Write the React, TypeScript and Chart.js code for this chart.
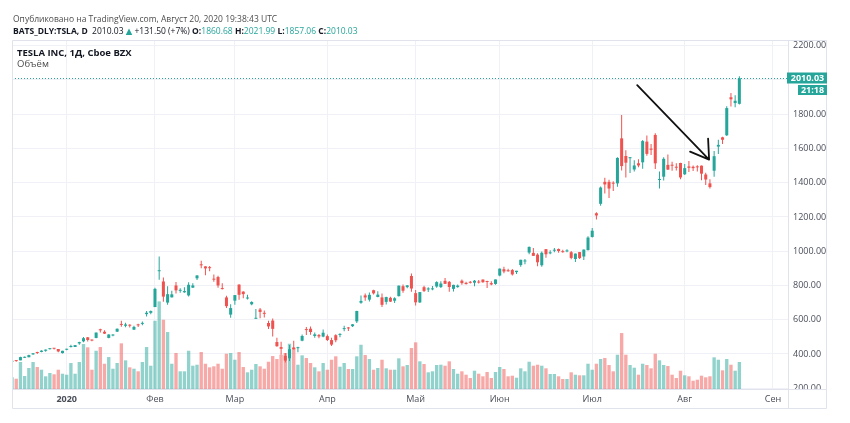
import React, { useEffect, useRef } from 'react';
import { Chart, registerables } from 'chart.js';

Chart.register(...registerables);

// ---- Data (TSLA daily, 2019-12-12 .. 2020-08-20; one value per trading day) ----
const opens: number[] = [
  354.92, 361.05, 362.55, 377.5, 380.63, 397.32, 410.29, 411.78, 418.36, 427.91, 435.0, 428.79, 405.0,
  424.5, 440.5, 440.47, 461.4, 473.7, 497.1, 481.79, 493.5, 544.26, 529.76, 493.75, 507.61, 530.25, 571.89, 564.25, 570.63, 541.99, 568.49, 575.69, 632.42, 640.0,
  673.69, 882.96, 823.26, 699.92, 730.55, 800.0, 768.79, 760.0, 741.84, 787.22, 841.6, 923.5, 911.5, 906.99, 839.0, 849.0, 782.5, 730.0, 629.7,
  711.26, 805.0, 763.96, 723.77, 690.0, 605.39, 659.43, 640.2, 580.89, 595.0, 469.5, 440.01, 389.0, 374.7, 438.2, 433.6, 477.3, 545.25, 547.39, 505.0, 510.26, 501.25,
  504.0, 481.03, 509.44, 511.2, 545.0, 554.2, 562.09, 590.16, 698.97, 742.0, 716.94, 772.28, 732.7, 730.12, 703.98, 727.6, 710.81, 737.61, 795.64, 790.17, 855.19,
  755.0, 701.0, 789.79, 776.5, 777.21, 793.77, 790.51, 827.0, 820.83, 780.0, 790.35, 827.78, 815.17, 820.5, 816.0, 822.17, 834.5, 820.86, 813.51, 808.75,
  858.0, 894.7, 888.12, 889.88, 877.84, 919.0, 940.01, 991.88, 990.2, 980.0, 917.79, 1011.85, 987.46, 1003.0, 1012.9, 999.95, 998.88, 994.11, 954.27, 994.78, 969.01, 1006.5,
  1083.0, 1221.48, 1276.69, 1405.01, 1405.0, 1396.99, 1396.0, 1659.0, 1556.0, 1543.0, 1477.16, 1513.45, 1519.01, 1639.93, 1599.0, 1678.95, 1416.01, 1435.0, 1504.0, 1505.0, 1488.0, 1515.0,
  1449.2, 1495.01, 1492.99, 1495.0, 1499.56, 1448.0, 1396.0, 1470.0, 1610.86, 1664.99, 1677.0, 1898.95, 1865.0, 1860.68,
];
const highs: number[] = [
  362.74, 365.21, 383.61, 385.5, 395.22, 405.67, 413.0, 422.01, 425.47, 433.48, 435.31, 429.0, 418.7,
  430.7, 454.0, 451.56, 471.63, 498.49, 498.8, 484.94, 525.63, 547.41, 537.84, 514.46, 515.67, 548.58, 594.5, 582.0, 573.86, 564.44, 576.81, 589.8, 650.88, 653.0,
  786.14, 968.99, 845.98, 795.83, 769.75, 819.99, 783.51, 789.75, 818.0, 812.97, 860.0, 944.78, 912.0, 913.05, 863.5, 856.6, 813.31, 739.76, 690.52,
  743.69, 806.98, 766.52, 745.75, 707.0, 663.0, 668.0, 653.58, 594.5, 607.57, 494.87, 471.85, 404.86, 452.0, 477.0, 442.0, 513.69, 557.0, 560.0, 525.8, 516.65, 542.96,
  513.95, 494.26, 515.49, 521.0, 565.0, 557.21, 575.18, 652.0, 741.88, 753.13, 759.45, 774.95, 765.57, 753.33, 734.0, 734.0, 730.73, 799.49, 805.0, 803.2, 869.82,
  772.77, 762.0, 798.92, 789.8, 796.4, 824.0, 824.0, 843.29, 826.0, 803.36, 805.05, 834.72, 822.07, 826.0, 832.5, 831.78, 834.6, 827.71, 824.75, 835.0,
  899.0, 908.66, 897.94, 895.75, 886.52, 950.0, 954.44, 1027.48, 1018.96, 987.98, 998.84, 1012.88, 1005.0, 1019.05, 1015.97, 1008.88, 1012.0, 1000.88, 985.98, 995.0, 1010.0, 1087.69,
  1135.33, 1228.0, 1377.79, 1429.5, 1417.26, 1408.56, 1548.92, 1794.99, 1590.0, 1550.0, 1531.71, 1537.51, 1650.0, 1675.0, 1626.42, 1689.0, 1465.0, 1547.94, 1564.7, 1522.9, 1513.24, 1517.05,
  1509.82, 1527.0, 1499.84, 1502.39, 1499.84, 1457.75, 1420.0, 1585.0, 1651.18, 1668.54, 1845.86, 1923.9, 1911.0, 2021.99,
];
const lows: number[] = [
  353.23, 354.64, 362.5, 375.9, 380.58, 395.08, 400.19, 410.0, 412.69, 426.35, 426.11, 409.26, 402.22,
  421.71, 436.92, 440.0, 453.36, 468.23, 472.87, 473.7, 492.0, 524.9, 516.79, 492.17, 503.16, 528.41, 559.1, 555.6, 554.26, 539.28, 558.08, 567.43, 618.0, 632.52,
  673.52, 833.88, 704.11, 687.0, 730.0, 752.4, 758.0, 758.0, 735.0, 785.5, 832.36, 901.02, 860.0, 882.33, 822.02, 787.0, 776.11, 669.0, 611.52,
  686.67, 716.11, 724.73, 718.07, 684.27, 605.0, 608.5, 613.0, 546.25, 502.0, 442.17, 396.0, 350.51, 358.46, 425.79, 410.5, 474.0, 511.11, 512.25, 494.03, 491.23, 497.0,
  475.1, 446.4, 468.33, 497.96, 532.34, 533.33, 557.11, 580.53, 692.43, 710.0, 706.72, 747.66, 731.0, 673.79, 688.71, 703.13, 698.18, 735.0, 756.69, 783.16, 763.5,
  683.04, 698.0, 762.18, 761.11, 772.35, 787.01, 785.0, 808.0, 763.3, 764.0, 786.55, 803.88, 806.08, 811.8, 796.0, 812.0, 815.71, 785.0, 801.69, 804.21,
  854.1, 871.0, 880.1, 858.44, 866.2, 909.16, 923.93, 982.5, 972.0, 912.6, 908.5, 962.39, 982.57, 994.47, 991.33, 991.0, 994.01, 953.14, 937.15, 954.87, 948.52, 1003.73,
  1080.5, 1185.6, 1266.04, 1336.71, 1311.34, 1351.28, 1376.01, 1471.11, 1431.0, 1457.0, 1466.0, 1490.0, 1482.11, 1558.0, 1562.0, 1480.61, 1366.54, 1413.0, 1474.42, 1470.0, 1471.0, 1420.36,
  1444.38, 1462.0, 1468.31, 1466.0, 1415.01, 1385.86, 1366.0, 1435.0, 1567.26, 1626.3, 1672.83, 1845.11, 1841.14, 1857.06,
];
const closes: number[] = [
  359.68, 358.39, 381.5, 378.99, 393.15, 404.04, 405.59, 419.22, 425.25, 430.94, 430.38, 414.7, 418.33,
  430.26, 443.01, 451.54, 469.06, 492.14, 481.34, 478.15, 524.86, 537.92, 518.5, 513.49, 510.5, 547.2, 569.56, 572.2, 564.82, 558.02, 566.9, 580.99, 640.81, 650.57,
  780.0, 887.06, 734.7, 748.96, 748.07, 771.28, 774.38, 767.29, 804.0, 800.03, 858.4, 917.42, 899.41, 901.0, 833.79, 799.91, 778.8, 679.0, 667.99,
  743.62, 745.51, 749.5, 724.54, 703.48, 608.0, 645.33, 634.23, 560.55, 546.62, 445.07, 430.2, 361.22, 427.64, 427.53, 434.29, 505.0, 539.25, 528.16, 514.36, 502.13, 524.0,
  481.56, 454.47, 480.01, 516.24, 545.45, 548.84, 573.0, 650.95, 709.89, 729.83, 745.21, 753.89, 746.36, 686.72, 732.11, 705.63, 725.15, 798.75, 769.12, 800.51, 781.88,
  701.32, 761.19, 768.21, 782.58, 780.04, 819.42, 811.29, 809.41, 790.96, 803.33, 799.17, 813.63, 808.01, 815.56, 827.6, 816.88, 818.87, 820.23, 805.81, 835.0,
  898.1, 881.56, 882.96, 864.38, 885.66, 949.92, 940.67, 1025.05, 972.84, 935.28, 990.9, 982.13, 991.79, 1003.96, 1000.9, 994.32, 1001.78, 960.85, 985.98, 959.74, 1009.35, 1079.81,
  1119.63, 1208.66, 1371.58, 1389.86, 1365.88, 1394.28, 1544.65, 1497.06, 1516.8, 1546.01, 1500.64, 1500.84, 1643.0, 1568.36, 1592.33, 1513.07, 1417.0, 1539.6, 1476.49, 1499.11, 1487.49, 1430.76,
  1485.0, 1487.0, 1485.02, 1489.58, 1452.71, 1418.57, 1374.39, 1554.76, 1621.0, 1650.71, 1835.64, 1887.09, 1878.53, 2010.03,
];
// volume (relative units)
const volumes: number[] = [
  117, 103, 270, 130, 210, 270, 220, 193, 127, 160, 147, 193, 153,
  143, 260, 153, 270, 450, 417, 193, 383, 420, 253, 320, 203, 260, 457, 287, 217, 203, 177, 270, 420, 233,
  683, 877, 693, 570, 253, 360, 177, 177, 383, 233, 243, 370, 253, 217, 227, 253, 203, 353, 360,
  293, 370, 220, 167, 193, 250, 227, 203, 273, 330, 300, 343, 360, 453, 410, 243, 337, 310, 260, 217, 177, 260,
  193, 293, 327, 223, 260, 200, 200, 327, 443, 340, 300, 193, 210, 293, 207, 193, 193, 307, 227, 240, 410,
  467, 277, 250, 167, 177, 240, 243, 233, 277, 200, 153, 177, 143, 110, 183, 153, 127, 170, 110, 170,
  220, 200, 127, 133, 113, 207, 177, 273, 233, 243, 233, 207, 150, 150, 127, 100, 100, 167, 143, 137, 137, 253,
  193, 253, 300, 310, 240, 177, 343, 560, 343, 240, 213, 143, 253, 240, 207, 353, 287, 240, 230, 143, 110, 183,
  137, 127, 83, 93, 133, 117, 127, 317, 293, 187, 300, 243, 183, 270,
];
// month starts (bar index) and their labels on the time axis
const monthTickIndex: number[] = [13, 34, 53, 75, 96, 116, 138, 160, 181];
const monthTickLabels: string[] = ['2020', 'Фев', 'Мар', 'Апр', 'Май', 'Июн', 'Июл', 'Авг', 'Сен'];
const priceTicks: number[] = [200, 400, 600, 800, 1000, 1200, 1400, 1600, 1800, 2000, 2200];
const lastPrice = 2010.03;
const lastPriceLabel = '2010.03';
const countdownLabel = '21:18';
// annotation arrow (bar index, price)
const arrowFrom = { x: 148.7, y: 1970 };
const arrowTo = { x: 165.8, y: 1535 };

const UP = '#26a69a';
const DOWN = '#ef5350';
const UP_VOL = 'rgba(38,166,154,0.5)';
const DOWN_VOL = 'rgba(239,83,80,0.5)';
const GRID = '#eff1f6';
const FRAME = '#e0e3eb';
const TICK = '#4a4e59';
const FONT = "'Open Sans', 'Noto Sans', 'DejaVu Sans', sans-serif";

const overlayPlugin = {
  id: 'overlay',
  afterDatasetsDraw(chart: any) {
    const { ctx, chartArea, scales } = chart;
    const x = scales.x;
    const y = scales.y;
    ctx.save();
    // last price dotted line
    const py = Math.round(y.getPixelForValue(lastPrice)) + 0.5;
    ctx.strokeStyle = UP;
    ctx.lineWidth = 1;
    ctx.setLineDash([1, 2]);
    ctx.beginPath();
    ctx.moveTo(chartArea.left, py);
    ctx.lineTo(chartArea.right, py);
    ctx.stroke();
    ctx.setLineDash([]);
    // arrow
    const x1 = x.getPixelForValue(arrowFrom.x);
    const y1 = y.getPixelForValue(arrowFrom.y);
    const x2 = x.getPixelForValue(arrowTo.x);
    const y2 = y.getPixelForValue(arrowTo.y);
    ctx.strokeStyle = '#111111';
    ctx.lineWidth = 1.8;
    ctx.lineCap = 'round';
    ctx.beginPath();
    ctx.moveTo(x1, y1);
    ctx.lineTo(x2, y2);
    ctx.moveTo(x2, y2);
    ctx.lineTo(x2 - 1, y2 - 21);
    ctx.moveTo(x2, y2);
    ctx.lineTo(x2 - 19, y2 - 8);
    ctx.stroke();
    ctx.restore();
  },
  afterDraw(chart: any) {
    const { ctx, chartArea, scales } = chart;
    const y = scales.y;
    const left = chartArea.left;
    const right = chartArea.right + y.width;
    const top = chartArea.top;
    const bottom = chartArea.bottom + scales.x.height;
    ctx.save();
    // time-axis row hides the lower part of the price axis
    ctx.fillStyle = '#ffffff';
    ctx.fillRect(chartArea.right + 1, chartArea.bottom + 1, right - chartArea.right, bottom - chartArea.bottom);
    ctx.strokeStyle = FRAME;
    ctx.lineWidth = 1;
    ctx.beginPath();
    ctx.rect(left + 0.5, top + 0.5, right - left - 1, bottom - top);
    ctx.moveTo(chartArea.right + 0.5, top);
    ctx.lineTo(chartArea.right + 0.5, bottom);
    ctx.moveTo(left, chartArea.bottom + 0.5);
    ctx.lineTo(right, chartArea.bottom + 0.5);
    ctx.stroke();
    // price labels on axis
    const py = Math.round(y.getPixelForValue(lastPrice));
    ctx.fillStyle = UP;
    ctx.fillRect(chartArea.right - 1, py - 5.5, right - chartArea.right + 1, 11);
    ctx.fillRect(chartArea.right + 10, py + 7, right - chartArea.right - 10, 10);
    ctx.fillStyle = '#ffffff';
    ctx.font = `bold 9px ${FONT}`;
    ctx.textAlign = 'center';
    ctx.textBaseline = 'middle';
    ctx.fillText(lastPriceLabel, (chartArea.right + right) / 2, py + 0.5);
    ctx.fillText(countdownLabel, (chartArea.right + 10 + right) / 2, py + 12.5);
    ctx.restore();
  },
};

export default function App() {
  const ref = useRef<HTMLCanvasElement>(null);
  useEffect(() => {
    const idx = closes.map((_, i) => i);
    const up = closes.map((c, i) => c >= opens[i]);
    const chart = new Chart(ref.current as HTMLCanvasElement, {
      type: 'bar',
      data: {
        datasets: [
          {
            label: 'body',
            data: idx.map((i) => ({ x: i, y: [opens[i], closes[i]] })) as any,
            backgroundColor: up.map((u) => (u ? UP : DOWN)),
            borderWidth: 0,
            barPercentage: 0.72,
            categoryPercentage: 1,
            grouped: false,
            minBarLength: 1,
            yAxisID: 'y',
            order: 1,
          },
          {
            label: 'wick',
            data: idx.map((i) => ({ x: i, y: [lows[i], highs[i]] })) as any,
            backgroundColor: up.map((u) => (u ? UP : DOWN)),
            borderWidth: 0,
            barPercentage: 1,
            maxBarThickness: 1,
            grouped: false,
            yAxisID: 'y',
            order: 2,
          },
          {
            label: 'volume',
            data: idx.map((i) => ({ x: i, y: volumes[i] })) as any,
            backgroundColor: up.map((u) => (u ? UP_VOL : DOWN_VOL)),
            borderWidth: 0,
            barPercentage: 0.8,
            categoryPercentage: 1,
            grouped: false,
            yAxisID: 'yVol',
            order: 3,
          },
        ],
      },
      options: {
        animation: false,
        responsive: false,
        events: [],
        layout: { padding: { left: 12, top: 40, right: 23, bottom: 15 } },
        plugins: { legend: { display: false }, tooltip: { enabled: false } },
        scales: {
          x: {
            type: 'linear',
            offset: false,
            min: -0.01,
            max: 184.57,
            grid: { color: GRID, drawTicks: false, offset: false },
            border: { display: false },
            ticks: {
              padding: 5,
              color: TICK,
              autoSkip: false,
              maxRotation: 0,
              font: (c: any) => ({
                family: FONT,
                size: 9,
                weight: c.tick && c.tick.value === monthTickIndex[0] ? 'bold' : 'normal',
              }),
              callback: (v: any) => {
                const k = monthTickIndex.indexOf(Number(v));
                return k >= 0 ? monthTickLabels[k] : '';
              },
            },
            afterBuildTicks: (s: any) => {
              s.ticks = monthTickIndex.map((v) => ({ value: v }));
            },
            afterFit: (s: any) => {
              s.height = 19;
            },
          },
          y: {
            position: 'right',
            min: 195.3,
            max: 2233.3,
            grid: { color: GRID, drawTicks: false },
            border: { display: false },
            ticks: {
              padding: 5,
              color: TICK,
              autoSkip: false,
              font: { family: FONT, size: 9 },
              callback: (v: any) => Number(v).toFixed(2),
            },
            afterBuildTicks: (s: any) => {
              s.ticks = priceTicks.map((v) => ({ value: v }));
            },
            afterFit: (s: any) => {
              s.width = 39;
            },
          },
          yVol: {
            display: false,
            min: 0,
            max: 3493,
          },
        } as any,
      },
      plugins: [overlayPlugin],
    });
    return () => chart.destroy();
  }, []);

  const base: React.CSSProperties = {
    position: 'absolute',
    fontFamily: FONT,
    fontSize: 8.5,
    lineHeight: '12px',
    whiteSpace: 'nowrap',
  };
  const teal: React.CSSProperties = { color: UP };
  return (
    <div style={{ position: 'absolute', left: 0, top: 0, width: 850, height: 423, background: '#ffffff' }}>
      <canvas ref={ref} width={850} height={423} style={{ position: 'absolute', left: 0, top: 0, width: 850, height: 423 }} />
      <div style={{ ...base, left: 13, top: 12.5, color: '#4d4d4d' }}>
        Опубликовано на TradingView.com, Август 20, 2020 19:38:43 UTC
      </div>
      <div style={{ ...base, left: 13, top: 25, color: '#131722' }}>
        <b>BATS_DLY:TSLA, D</b>&nbsp; 2010.03 <span style={teal}>▲</span> +131.50 (+7%) <b>O:</b>
        <span style={teal}>1860.68</span> <b>H:</b>
        <span style={teal}>2021.99</span> <b>L:</b>
        <span style={teal}>1857.06</span> <b>C:</b>
        <span style={teal}>2010.03</span>
      </div>
      <div style={{ ...base, fontSize: 9.5, left: 17, top: 46.5, color: '#131722', fontWeight: 'bold' }}>TESLA INC, 1Д, Cboe BZX</div>
      <div style={{ ...base, fontSize: 9.5, left: 17, top: 58, color: '#4d4d4d' }}>Объём</div>
    </div>
  );
}
